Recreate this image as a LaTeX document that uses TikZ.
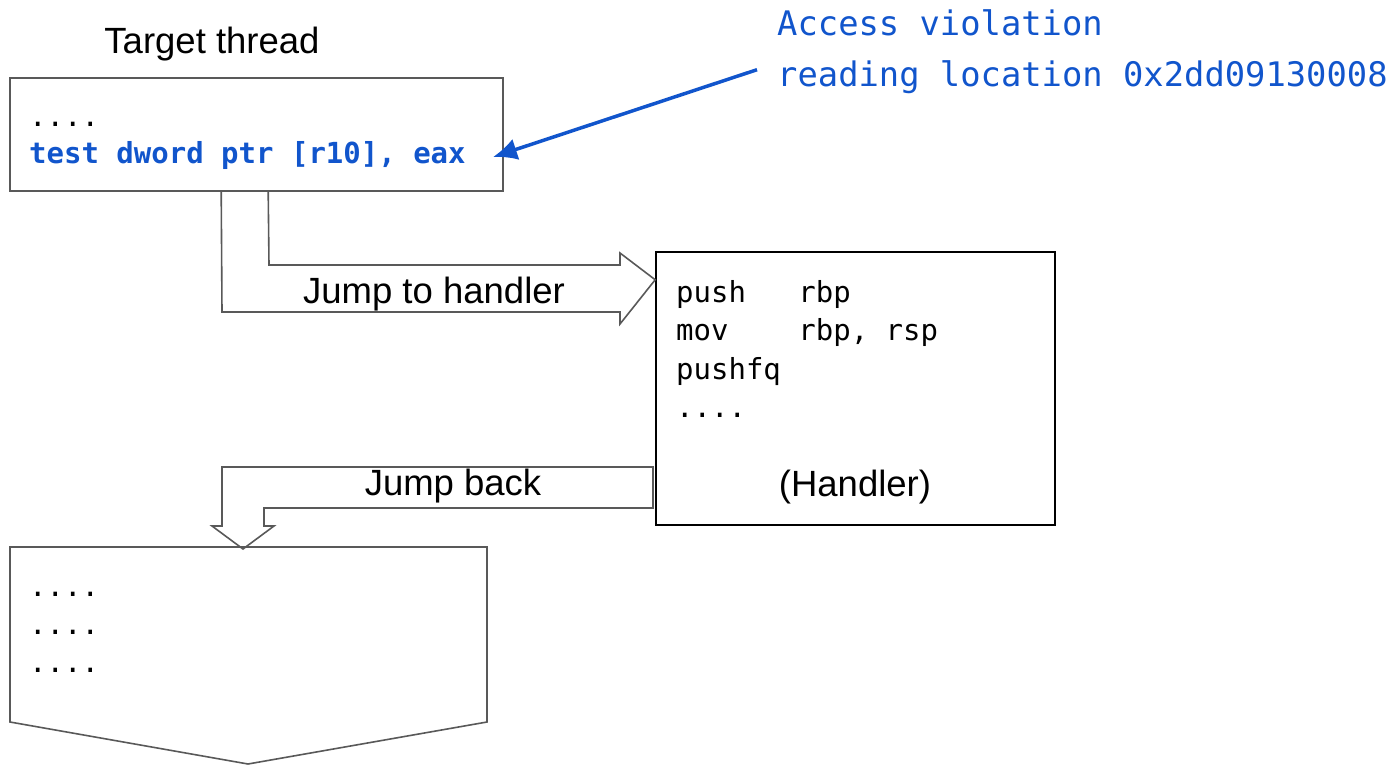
\documentclass[tikz,border=0pt]{standalone}
\usepackage{fontspec}
\setmainfont{Liberation Sans}
\newfontfamily\codefont{DejaVu Sans Mono}
\usetikzlibrary{arrows.meta,calc}
\definecolor{codeblue}{HTML}{1155CC}
\definecolor{edge}{HTML}{595959}
\tikzset{
  boxframe/.style={draw=edge,line width=1.6pt,inner sep=0pt},
  hframe/.style={boxframe,draw=black},
  outline/.style={draw=edge,line width=1.6pt,line join=miter},
  bigarrow/.style={outline},
  lbl/.style={font=\fontsize{36.5}{44}\selectfont,inner sep=0pt,anchor=base},
  codeline/.style={font=\codefont\fontsize{29}{38}\selectfont,inner sep=0pt,anchor=base west},
  boldcode/.style={codeline,font=\codefont\bfseries\fontsize{29}{38}\selectfont,text=codeblue},
  notetext/.style={codeline,font=\codefont\fontsize{33.8}{52}\selectfont,text=codeblue},
  pointer/.style={draw=codeblue,line width=3.5pt,-{Latex[length=24pt,width=22pt]}},
}
\begin{document}
\begin{tikzpicture}[x=1pt,y=-1pt]
  \useasboundingbox (0,0) rectangle (1394,765);
  % target thread
  \node[lbl] (title) at (212,54) {Target thread};
  \node[boxframe,minimum width=493pt,minimum height=113pt] (thread) at (256.5,134.5) {};
  \node[codeline] (tdots) at (29,127) {....};
  \node[boldcode] (fault) at (29,163) {test dword ptr [r10], eax};
  % handler
  \node[hframe,minimum width=399pt,minimum height=273pt] (handler) at (855.5,388.5) {};
  \node[codeline] (h1) at (676,302) {push\ \ \ rbp};
  \node[codeline] (h2) at (676,340.5) {mov\ \ \ \ rbp, rsp};
  \node[codeline] (h3) at (676,379) {pushfq};
  \node[codeline] (h4) at (676,417) {....};
  \node[lbl] (hname) at (855,496) {(Handler)};
  % block arrows
  \draw[bigarrow] ($(thread.south west)+(259,0)$) -- (269,265) -- (620,265) -- (620,253)
    -- (handler.west |- h1.north) -- (620,324) -- (620,312) -- (222,312) -- ($(thread.south west)+(212,0)$);
  \node[lbl] (jto) at (434,303) {Jump to handler};
  \draw[bigarrow] (653,467) -- (222,467) -- (222,526) -- (212,526) -- (243,549)
    -- (274,526) -- (264,526) -- (264,508) -- (653,508) -- cycle;
  \node[lbl] (jback) at (453,495) {Jump back};
  % continuation
  \draw[outline] (10,547) -- (487,547) -- (487,722) -- (248,764) -- (10,722) -- cycle;
  \foreach \y/\n in {596/1,634/2,672/3}
    \node[codeline] (rest\n) at (29,\y) {....};
  % fault note
  \node[notetext] (note1) at (777,36) {Access violation};
  \node[notetext] (note2) at (777,87) {reading location 0x2dd09130008};
  \coordinate (hit) at (493,157);
  \draw[pointer] ($(note2.west)+(-20,-8)$) -- (hit);
\end{tikzpicture}
\end{document}
